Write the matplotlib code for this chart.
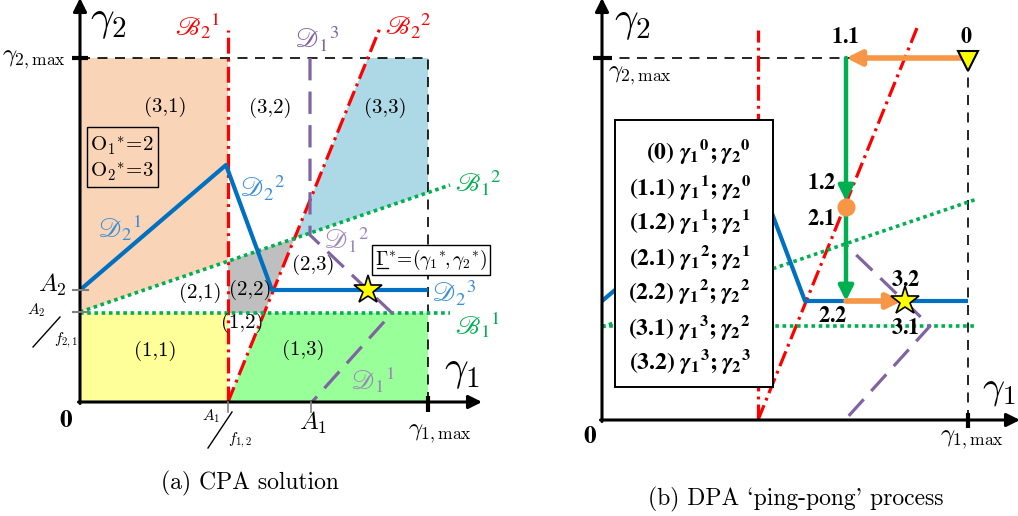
import matplotlib
matplotlib.use('Agg')
import matplotlib.pyplot as plt
import numpy as np
from matplotlib.patches import Polygon, Rectangle

plt.rcParams['mathtext.fontset'] = 'cm'
plt.rcParams['font.family'] = 'serif'
plt.rcParams['font.serif'] = ['cmr10']
plt.rcParams['axes.unicode_minus'] = False

# ---------------- data: panel (a) geometry (units ~ pixels, origin at axes corner)
A_G1MAX, A_G2MAX = 348, 344
A_B21_X, A_B21_TOP = 148, 372
A_B22_X = [148, 300]
A_B22_Y = [0, 374]
A_B11_Y, A_B11_XEND = 89, 370
A_B12_X = [0, 370]
A_B12_Y = [90, 217]
A_D2_X = [0, 146, 192, 348]
A_D2_Y = [112, 237, 112, 112]
A_D1_X = [230, 230, 312, 232]
A_D1_Y = [344, 167, 89, 0]
A_STAR = [288, 112]
A_TICK_A1, A_TICK_A1F = 231, 148
A_TICK_A2, A_TICK_A2F = 112, 90
A_REGION_LABELS = ['(3,1)', '(3,2)', '(3,3)', '(2,3)', '(2,1)', '(2,2)', '(1,2)', '(1,1)', '(1,3)']
A_REGION_X = [85, 190, 305, 233, 120, 170, 162, 75, 223]
A_REGION_Y = [295, 294, 294, 137, 109, 112, 79, 51, 52]

# ---------------- data: panel (b) geometry
B_G1MAX, B_G2MAX = 366, 362
B_B21_X, B_B21_TOP = 156, 390
B_B22_X = [156, 315]
B_B22_Y = [0, 392]
B_B11_Y, B_B11_XEND = 94, 373
B_B12_X = [0, 375]
B_B12_Y = [93, 221]
B_D2_X = [0, 154, 203, 366]
B_D2_Y = [119, 249, 119, 119]
B_D1_X = [244, 244, 328, 243]
B_D1_Y = [362, 175, 94, 0]
B_STEPS = ['(0)', '(1.1)', '(1.2)', '(2.1)', '(2.2)', '(3.1)', '(3.2)']
B_G1_IDX = ['0', '1', '1', '2', '2', '3', '3']
B_G2_IDX = ['0', '0', '1', '1', '2', '2', '3']
B_PATH_X = [366, 244, 244, 244, 300]   # 0 -> 1.1 -> 2.1(circle) -> 2.2 -> star
B_PATH_Y = [362, 362, 213, 119, 119]
B_STAR = [303, 119]

RED = '#FF0000'; BLUE = '#0070C0'; GREEN = '#00B050'; PURPLE = '#8064A2'
ORANGE = '#F79646'

fig = plt.figure(figsize=(10.18, 5.16), dpi=100)
axA = fig.add_axes([0, 0, 1, 1])
axA.set_xlim(-80, 938); axA.set_ylim(-114, 402); axA.axis('off')
axB = fig.add_axes([0, 0, 1, 1])
axB.set_xlim(-602, 416); axB.set_ylim(-96, 420); axB.axis('off')
axB.patch.set_alpha(0)

def line_x_at_y(xs, ys, y):
    return xs[0] + (y - ys[0]) * (xs[1] - xs[0]) / (ys[1] - ys[0])

def line_y_at_x(xs, ys, x):
    return ys[0] + (x - xs[0]) * (ys[1] - ys[0]) / (xs[1] - xs[0])

def intersect(ax1, ay1, bx, by):
    y = ay1[0]
    for _ in range(60):
        x = line_x_at_y(ax1, ay1, y)
        y = line_y_at_x(bx, by, x)
    return line_x_at_y(ax1, ay1, y), y

def draw_axes(ax, xend, yend):
    kw = dict(arrowstyle='-|>', color='k', lw=2.2, mutation_scale=20, shrinkA=0, shrinkB=0)
    ax.annotate('', xy=(xend, 0), xytext=(-1.5, 0), arrowprops=kw, zorder=8, annotation_clip=False)
    ax.annotate('', xy=(0, yend), xytext=(0, -1.5), arrowprops=kw, zorder=8, annotation_clip=False)

red_dash = dict(color=RED, lw=2.3, dashes=(5, 1.6, 0.9, 1.6), dash_capstyle='butt')
green_dot = dict(color=GREEN, lw=2.6, dashes=(1, 1), dash_capstyle='butt')
purple_dash = dict(color=PURPLE, lw=2.3, dashes=(7, 3.5), dash_capstyle='butt')
black_dash = dict(color='k', lw=1.2, dashes=(6, 4.5))

def bold(s):
    return r'$\mathbf{%s}$' % s

# ============================ Panel (a) ============================
ax = axA
g12 = lambda x: line_y_at_x(A_B12_X, A_B12_Y, x)
xr_b11 = line_x_at_y(A_B22_X, A_B22_Y, A_B11_Y)
xr_top = line_x_at_y(A_B22_X, A_B22_Y, A_G2MAX)
xi, yi = intersect(A_B22_X, A_B22_Y, A_B12_X, A_B12_Y)

regions = [
    ([(0, g12(0)), (0, A_G2MAX), (A_B21_X, A_G2MAX), (A_B21_X, g12(A_B21_X))], '#FAD4B6'),
    ([(xi, yi), (xr_top, A_G2MAX), (A_G1MAX, A_G2MAX), (A_G1MAX, g12(A_G1MAX))], '#ADD8E6'),
    ([(A_B21_X, g12(A_B21_X)), (xi, yi), (xr_b11, A_B11_Y), (A_B21_X, A_B11_Y)], '#BFBFBF'),
    ([(0, 0), (A_B21_X, 0), (A_B21_X, A_B11_Y), (0, A_B11_Y)], '#FFFF99'),
    ([(A_B21_X, 0), (A_G1MAX, 0), (A_G1MAX, A_B11_Y), (xr_b11, A_B11_Y)], '#99FF99'),
]
for pts, c in regions:
    ax.add_patch(Polygon(pts, closed=True, facecolor=c, edgecolor='none', zorder=1))

ax.plot([0, A_G1MAX], [A_G2MAX, A_G2MAX], zorder=3, **black_dash)
ax.plot([A_G1MAX, A_G1MAX], [0, A_G2MAX], zorder=3, **black_dash)
ax.plot([A_B21_X, A_B21_X], [0, A_B21_TOP], zorder=4, **red_dash)
ax.plot(A_B22_X, A_B22_Y, zorder=4, **red_dash)
ax.plot([0, A_B11_XEND], [A_B11_Y, A_B11_Y], zorder=4, **green_dot)
ax.plot(A_B12_X, A_B12_Y, zorder=4, **green_dot)
ax.plot(A_D1_X, A_D1_Y, zorder=4, **purple_dash)
ax.plot(A_D2_X, A_D2_Y, color=BLUE, lw=3.0, zorder=5, solid_capstyle='butt')
ax.plot(*A_STAR, marker='*', ms=21, mfc='#FFFF00', mec='k', mew=1.2, zorder=7)
draw_axes(ax, 402, 404)

ax.plot([-8, 8], [A_G2MAX, A_G2MAX], color='k', lw=3, zorder=8, solid_capstyle='butt')
ax.plot([A_G1MAX, A_G1MAX], [6, -10], color='k', lw=3, zorder=8, solid_capstyle='butt')
for yv in (A_TICK_A2, A_TICK_A2F):
    ax.plot([-7, 8], [yv, yv], color='#7F7F7F', lw=1.5, zorder=8)
for xv in (A_TICK_A1, A_TICK_A1F):
    ax.plot([xv, xv], [0, -10], color='#7F7F7F', lw=1.2, zorder=8)

ax.text(28, 380, r'$\gamma_2$', fontsize=30, ha='center', va='center')
ax.text(382, 30, r'$\gamma_1$', fontsize=30, ha='center', va='center')
ax.text(-14, 342, r'$\gamma_{2,\mathrm{max}}$', fontsize=18, ha='right', va='center')
ax.text(360, -32, r'$\gamma_{1,\mathrm{max}}$', fontsize=18, ha='center', va='center')
ax.text(-14, -19, bold('0'), fontsize=18, ha='center', va='center', math_fontfamily='stix')
ax.text(-28, 117, r'$A_2$', fontsize=18, ha='center', va='center')
ax.text(233, -21, r'$A_1$', fontsize=18, ha='center', va='center')
# slashed fractions
ax.text(-44, 92, r'$A_2$', fontsize=11, ha='center', va='center')
ax.plot([-47, -20], [55, 85], color='k', lw=1.0)
ax.text(-14, 62, r'$f_{2,1}$', fontsize=11, ha='center', va='center')
ax.text(131, -14, r'$A_1$', fontsize=11, ha='center', va='center')
ax.plot([128, 152], [-46, -10], color='k', lw=1.0)
ax.text(160, -38, r'$f_{1,2}$', fontsize=11, ha='center', va='center')

for lab, x, y in zip(A_REGION_LABELS, A_REGION_X, A_REGION_Y):
    ax.text(x, y, lab, fontsize=15, ha='center', va='center', zorder=9)

ax.add_patch(Rectangle((7, 215), 71, 60, facecolor='none', edgecolor='k', lw=1.0, zorder=9))
ax.text(42, 256, r'$\mathrm{O_1}^{*}\!=\!2$', fontsize=15, ha='center', va='center', zorder=9)
ax.text(42, 230, r'$\mathrm{O_2}^{*}\!=\!3$', fontsize=15, ha='center', va='center', zorder=9)

ax.text(351, 142, r'$\Gamma^{*}\!=\!(\gamma_1{}^{*}\!,\gamma_2{}^{*})$', fontsize=14, ha='center', va='center',
        zorder=9, bbox=dict(boxstyle='square,pad=0.14', fc='white', ec='k', lw=1.0))
ax.plot([297, 308], [134, 134], color='k', lw=0.9, zorder=10)

cal = dict(ha='center', va='center', fontsize=19, math_fontfamily='stix', zorder=9)
ax.text(118, 376, r'$\mathscr{B}_2{}^{1}$', color=RED, **cal)
ax.text(328, 376, r'$\mathscr{B}_2{}^{2}$', color=RED, **cal)
ax.text(398, 219, r'$\mathscr{B}_1{}^{2}$', color=GREEN, **cal)
ax.text(398, 77, r'$\mathscr{B}_1{}^{1}$', color=GREEN, **cal)
ax.text(237, 363, r'$\mathscr{D}_1{}^{3}$', color=PURPLE, **cal)
ax.text(267, 162, r'$\mathscr{D}_1{}^{2}$', color='#9D86BE', **cal)
ax.text(293, 22, r'$\mathscr{D}_1{}^{1}$', color='#9D86BE', **cal)
ax.text(40, 174, r'$\mathscr{D}_2{}^{1}$', color='#3A8FD8', **cal)
ax.text(183, 214, r'$\mathscr{D}_2{}^{2}$', color='#3A8FD8', **cal)
ax.text(374, 109, r'$\mathscr{D}_2{}^{3}$', color='#3A8FD8', **cal)

ax.text(170, -81, '(a) CPA solution', fontsize=17, ha='center', va='center', family='cmr10')

# ============================ Panel (b) ============================
ax = axB
ax.plot([0, B_G1MAX], [B_G2MAX, B_G2MAX], zorder=3, **black_dash)
ax.plot([B_G1MAX, B_G1MAX], [0, B_G2MAX], zorder=3, **black_dash)
ax.plot([B_B21_X, B_B21_X], [0, B_B21_TOP], zorder=4, **red_dash)
ax.plot(B_B22_X, B_B22_Y, zorder=4, **red_dash)
ax.plot([0, B_B11_XEND], [B_B11_Y, B_B11_Y], zorder=4, **green_dot)
ax.plot(B_B12_X, B_B12_Y, zorder=4, **green_dot)
ax.plot(B_D1_X, B_D1_Y, zorder=4, **purple_dash)
ax.plot(B_D2_X, B_D2_Y, color=BLUE, lw=3.0, zorder=5, solid_capstyle='butt')
draw_axes(ax, 418, 422)
ax.plot([-9, 10], [B_G2MAX, B_G2MAX], color='k', lw=3, zorder=8, solid_capstyle='butt')
ax.plot([B_G1MAX, B_G1MAX], [7, -8], color='k', lw=3, zorder=8, solid_capstyle='butt')

ax.add_patch(Rectangle((13, 33), 158, 267, facecolor='white', edgecolor='k', lw=1.4, zorder=6))
for i, (s, a, b) in enumerate(zip(B_STEPS, B_G1_IDX, B_G2_IDX)):
    y = 268 - 35 * i
    txt = (r'$\mathbf{%s}\ \boldsymbol{\gamma}_{\mathbf{1}}{}^{\mathbf{%s}}\mathbf{;}'
           r'\boldsymbol{\gamma}_{\mathbf{2}}{}^{\mathbf{%s}}$' % (s, a, b))
    ax.text(149, y, txt, fontsize=17, ha='right', va='center', zorder=7, math_fontfamily='stix')

akw = lambda c, lw: dict(arrowstyle='-|>', color=c, lw=lw, mutation_scale=22, shrinkA=0, shrinkB=0)
ax.annotate('', xy=(B_PATH_X[1], B_PATH_Y[1]), xytext=(B_PATH_X[0], B_PATH_Y[0]),
            arrowprops=akw(ORANGE, 4.0), zorder=9)
ax.annotate('', xy=(B_PATH_X[2], B_PATH_Y[2] + 6), xytext=(B_PATH_X[1], B_PATH_Y[1]),
            arrowprops=akw(GREEN, 3.2), zorder=9)
ax.annotate('', xy=(B_PATH_X[3], B_PATH_Y[3]), xytext=(B_PATH_X[2], B_PATH_Y[2]),
            arrowprops=akw(GREEN, 3.2), zorder=9)
ax.annotate('', xy=(B_PATH_X[4], B_PATH_Y[4]), xytext=(B_PATH_X[3], B_PATH_Y[3]),
            arrowprops=akw(ORANGE, 4.0), zorder=9)
ax.plot(B_PATH_X[2], B_PATH_Y[2], 'o', ms=12, color=ORANGE, zorder=10)
ax.plot(B_PATH_X[0], B_PATH_Y[0] - 3, marker='v', ms=14, mfc='#FFFF00', mec='k', mew=1.5, zorder=10)
ax.plot(*B_STAR, marker='*', ms=21, mfc='#FFFF00', mec='k', mew=1.2, zorder=10)

bl = dict(fontsize=16, ha='center', va='center', zorder=11, math_fontfamily='stix')
ax.text(364, 383, bold('0'), **bl)
ax.text(243, 383, bold('1.1'), **bl)
ax.text(220, 237, bold('1.2'), **bl)
ax.text(219, 201, bold('2.1'), **bl)
ax.text(231, 104, bold('2.2'), **bl)
ax.text(304, 140, bold('3.2'), **bl)
ax.text(303, 92, bold('3.1'), **bl)

ax.text(30, 397, r'$\gamma_2$', fontsize=30, ha='center', va='center')
ax.text(397, 30, r'$\gamma_1$', fontsize=28, ha='center', va='center')
ax.text(38, 344, r'$\gamma_{2,\mathrm{max}}$', fontsize=18, ha='center', va='center')
ax.text(370, -20, r'$\gamma_{1,\mathrm{max}}$', fontsize=18, ha='center', va='center')
ax.text(-12, -17, bold('0'), fontsize=18, ha='center', va='center', math_fontfamily='stix')

ax.text(194, -79, "(b) DPA `ping-pong' process", fontsize=17, ha='center', va='center', family='cmr10')

fig.savefig('out.png', dpi=100)
